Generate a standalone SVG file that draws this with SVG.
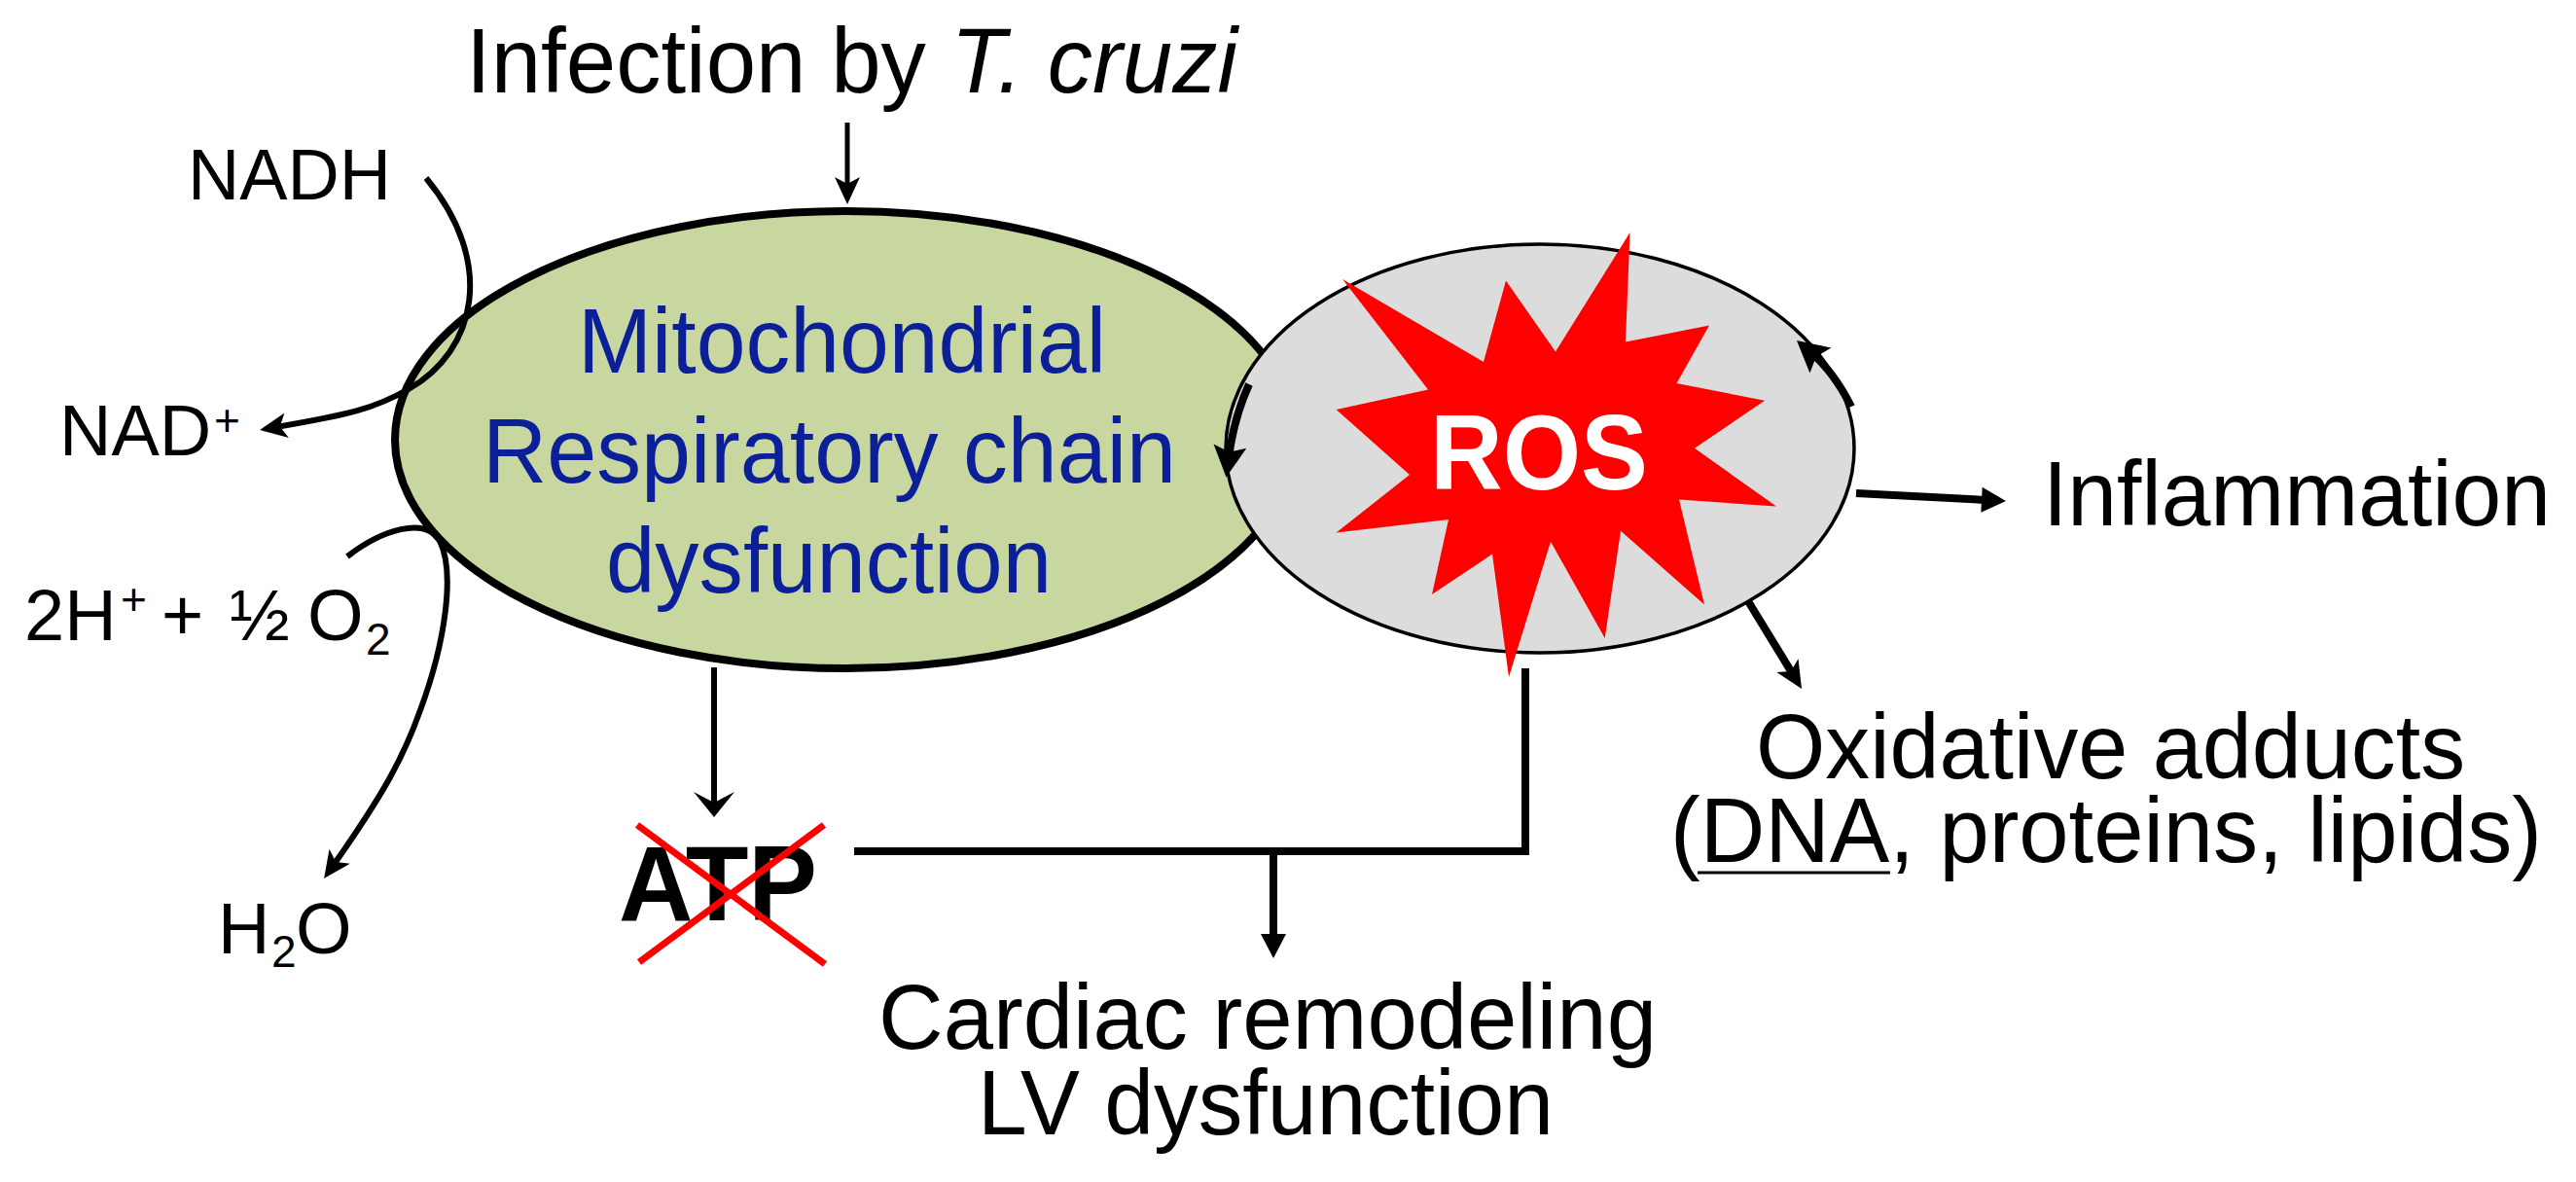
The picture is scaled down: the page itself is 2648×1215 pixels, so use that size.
<svg xmlns="http://www.w3.org/2000/svg" width="2648" height="1215" viewBox="0 0 2648 1215">
<style>
text{font-family:"Liberation Sans",Arial,sans-serif;fill:#000}
.t94{font-size:94px}
.t74{font-size:74px}
.blue{fill:#0a1f98}
.bold{font-weight:bold}
.conn{fill:none;stroke:#000;stroke-linejoin:miter}
</style>
<defs>
<marker id="ah" viewBox="-30 -15 32 30" refX="-15" refY="0" markerWidth="32" markerHeight="30" markerUnits="userSpaceOnUse" orient="auto"><path d="M0,0 L-28,-13 L-21,0 L-28,13 Z" fill="#000"/></marker>
<marker id="ahw" viewBox="-28 -23 30 46" refX="-10" refY="0" markerWidth="30" markerHeight="46" markerUnits="userSpaceOnUse" orient="auto"><path d="M0,0 L-26,-21 L-15,0 L-26,21 Z" fill="#000"/></marker>
<marker id="ahb" viewBox="-34 -19 36 38" refX="-18" refY="0" markerWidth="36" markerHeight="38" markerUnits="userSpaceOnUse" orient="auto"><path d="M0,0 L-32,-17 L-26,0 L-32,17 Z" fill="#000"/></marker>
<marker id="tri" viewBox="-27 -15 29 30" refX="-12" refY="0" markerWidth="29" markerHeight="30" markerUnits="userSpaceOnUse" orient="auto"><path d="M0,0 L-25,-13 L-25,13 Z" fill="#000"/></marker>
</defs>
<rect width="2648" height="1215" fill="#fff"/>

<g id="mito">
<ellipse cx="869" cy="452" rx="463" ry="235" fill="#c8d6a0" stroke="#000" stroke-width="8"/>
<text class="t94 blue" x="594" y="383" textLength="543" lengthAdjust="spacingAndGlyphs">Mitochondrial</text>
<text class="t94 blue" x="496" y="496" textLength="713" lengthAdjust="spacingAndGlyphs">Respiratory chain</text>
<text class="t94 blue" x="623" y="609" textLength="458" lengthAdjust="spacingAndGlyphs">dysfunction</text>
</g>

<g id="ros">
<ellipse cx="1583" cy="461" rx="323" ry="210" fill="#dcdcdc" stroke="#000" stroke-width="3.5"/>
<polygon fill="#ff0000" points="1675.5,239 1671,351.5 1757,334.5 1723.5,394 1814,411.7 1742,460.8 1826,520.5 1726,513.6 1752,621.5 1666,545.7 1649.7,656 1594,556.7 1551,696 1534,569.6 1472,611 1489,534 1373.6,547.6 1449,488 1373.6,421 1468,400.6 1380,287 1525,372 1548,288.6 1599,361.6"/>
<text class="bold" x="1470" y="503" font-size="110" style="fill:#fff" textLength="224" lengthAdjust="spacingAndGlyphs">ROS</text>
</g>

<g id="infection">
<text class="t94" x="479" y="95" textLength="793" lengthAdjust="spacingAndGlyphs">Infection by <tspan font-style="italic">T. cruzi</tspan></text>
</g>

<g id="nadh">
<text class="t74" x="193" y="205" textLength="209" lengthAdjust="spacingAndGlyphs">NADH</text>
</g>

<g id="nadplus">
<text class="t74" x="61" y="468">NAD</text>
<text x="220" y="448" font-size="46">+</text>
</g>

<g id="h2o2">
<text class="t74" x="25" y="658">2H</text>
<text x="124" y="632" font-size="46">+</text>
<text class="t74" x="166" y="658">+</text>
<text class="t74" x="236" y="658">½</text>
<text class="t74" x="316" y="658">O</text>
<text x="376" y="673" font-size="46">2</text>
</g>

<g id="h2o">
<text class="t74" x="224" y="980">H</text>
<text x="279" y="994" font-size="46">2</text>
<text class="t74" x="304" y="980">O</text>
</g>

<g id="atp">
<text class="bold" x="636" y="946" font-size="110" textLength="204" lengthAdjust="spacingAndGlyphs">ATP</text>
<line x1="655" y1="848" x2="848" y2="991" stroke="#ff0000" stroke-width="7"/>
<line x1="847" y1="848" x2="657" y2="989" stroke="#ff0000" stroke-width="7"/>
</g>

<g id="inflammation">
<text class="t94" x="2100" y="540" textLength="522" lengthAdjust="spacingAndGlyphs">Inflammation</text>
</g>

<g id="adducts">
<text class="t94" x="1805" y="800" textLength="729" lengthAdjust="spacingAndGlyphs">Oxidative adducts</text>
<text class="t94" x="1717" y="886" textLength="896" lengthAdjust="spacingAndGlyphs">(DNA, proteins, lipids)</text>
<line x1="1745" y1="897" x2="1943" y2="897" stroke="#000" stroke-width="3"/>
</g>

<g id="cardiac">
<text class="t94" x="903" y="1078" textLength="800" lengthAdjust="spacingAndGlyphs">Cardiac remodeling</text>
<text class="t94" x="1005" y="1166" textLength="592" lengthAdjust="spacingAndGlyphs">LV dysfunction</text>
</g>

<g id="connectors">
<path class="conn" stroke-width="5" d="M871,126 L871,195" marker-end="url(#ah)"/>
<path class="conn" stroke-width="6" d="M438,183 C510,270 490,360 420,400 C385,420 360,426 281.8,439.4" marker-end="url(#ah)"/>
<path class="conn" stroke-width="6" d="M357,572 C392,545 437,530 452,556 C468,588 458,660 432,730 C415,778 395,815 341.7,890.8" marker-end="url(#ah)"/>
<path class="conn" stroke-width="6" d="M734,686 L734,830" marker-end="url(#ahw)"/>
<path class="conn" stroke-width="8" d="M878,875 H1568 V687"/>
<path class="conn" stroke-width="8" d="M1309,879 L1309,973" marker-end="url(#tri)"/>
<path class="conn" stroke-width="8" d="M1908,507 L2050,514.4" marker-end="url(#tri)"/>
<path class="conn" stroke-width="8" d="M1797,618 L1844.2,695.2" marker-end="url(#ah)"/>
<path class="conn" stroke-width="8" d="M1284,395 Q1268,430 1262.7,472.6" marker-end="url(#ahb)"/>
<path class="conn" stroke-width="8" d="M1903,418 Q1885,382 1860.7,361.5" marker-end="url(#ahb)"/>
</g>
</svg>
